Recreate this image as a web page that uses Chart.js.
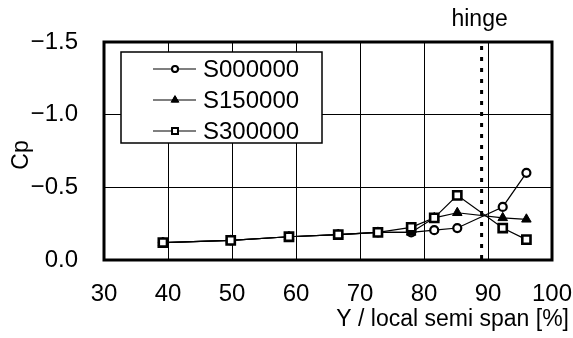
<!DOCTYPE html>
<html>
<head>
<meta charset="utf-8">
<script src="https://cdn.jsdelivr.net/npm/chart.js@4.4.1/dist/chart.umd.min.js"></script>
<style>
  html, body { margin: 0; padding: 0; background: #fff; }
  canvas { display: block; }
</style>
</head>
<body>
<canvas id="cpChart" width="573" height="338"></canvas>
<script>
// spanwise stations [% of local semi span]
const spanX = [39.2, 49.8, 58.9, 66.6, 72.8, 78.0, 81.6, 85.2, 92.3, 96.0];

// Cp per case
const cpS000000 = [-0.12, -0.135, -0.16, -0.175, -0.19, -0.19, -0.205, -0.22, -0.365, -0.60];
const cpS150000 = [-0.12, -0.135, -0.16, -0.175, -0.19, -0.19, -0.29, -0.325, -0.29, -0.28];
const cpS300000 = [-0.12, -0.135, -0.16, -0.175, -0.19, -0.225, -0.29, -0.445, -0.22, -0.14];

const seriesNames = ['S000000', 'S150000', 'S300000'];
const xTickValues = [30, 40, 50, 60, 70, 80, 90, 100];
const yTickValues = [0, -0.5, -1.0, -1.5];
const hingeX = 89;

const FONT = '"Liberation Sans", Arial, sans-serif';

function toPoints(values) {
    return spanX.map((x, i) => ({ x: x, y: values[i] }));
}

function formatCp(v) {
    if (Math.abs(v) < 1e-9) return '0.0';
    return (v < 0 ? '\u2212' : '') + Math.abs(v).toFixed(1);
}

const markerStyles = [
    { pointStyle: 'circle', radius: 4, borderWidth: 2.2, fill: '#fff', legendRadius: 3, legendBorder: 2 },
    { pointStyle: 'triangle', radius: 5.5, borderWidth: 1, fill: '#000', legendRadius: 4, legendBorder: 1 },
    { pointStyle: 'rect', radius: 5.8, borderWidth: 2.6, fill: '#fff', legendRadius: 4.2, legendBorder: 2 }
];

const decorations = {
    id: 'decorations',
    afterDraw(chart) {
        const ctx = chart.ctx;
        const area = chart.chartArea;
        const xScale = chart.scales.x;

        ctx.save();

        // hinge line
        const hx = xScale.getPixelForValue(hingeX);
        ctx.strokeStyle = '#000';
        ctx.lineWidth = 3;
        ctx.setLineDash([4, 7]);
        ctx.beginPath();
        ctx.moveTo(hx, area.top + 4);
        ctx.lineTo(hx, area.bottom);
        ctx.stroke();
        ctx.setLineDash([]);

        // frame
        ctx.lineWidth = 3;
        ctx.strokeRect(area.left, area.top, area.right - area.left, area.bottom - area.top);

        ctx.fillStyle = '#000';
        ctx.font = '23px ' + FONT;
        ctx.textBaseline = 'middle';

        // hinge label
        ctx.textAlign = 'center';
        ctx.fillText('hinge', hx - 2, 20);

        // axis titles
        ctx.textAlign = 'right';
        ctx.fillText('Y / local semi span [%]', 569, 320);

        ctx.save();
        ctx.translate(22, 155);
        ctx.rotate(-Math.PI / 2);
        ctx.textAlign = 'center';
        ctx.fillText('Cp', 0, 0);
        ctx.restore();

        // legend
        const box = { x: 121, y: 52, w: 201, h: 91 };
        ctx.fillStyle = '#fff';
        ctx.fillRect(box.x, box.y, box.w, box.h);
        ctx.lineWidth = 1.5;
        ctx.strokeStyle = '#000';
        ctx.strokeRect(box.x, box.y, box.w, box.h);

        const rows = [69, 100, 131];
        chart.data.datasets.forEach((ds, i) => {
            const y = rows[i];
            const m = markerStyles[i];
            ctx.lineWidth = 1.2;
            ctx.beginPath();
            ctx.moveTo(153, y);
            ctx.lineTo(196, y);
            ctx.stroke();
            Chart.helpers.drawPoint(ctx, {
                pointStyle: m.pointStyle,
                radius: m.legendRadius,
                borderWidth: m.legendBorder,
                rotation: 0
            }, 175, y);
            ctx.fillStyle = m.fill;
            ctx.strokeStyle = '#000';
            ctx.lineWidth = m.legendBorder;
            ctx.fill();
            ctx.stroke();
            ctx.fillStyle = '#000';
            ctx.font = '24px ' + FONT;
            ctx.textAlign = 'left';
            ctx.fillText(ds.label, 203, y + 1);
        });

        ctx.restore();
    }
};

const seriesValues = [cpS000000, cpS150000, cpS300000];

const datasets = seriesValues.map((vals, i) => {
    const m = markerStyles[i];
    return {
        label: seriesNames[i],
        data: toPoints(vals),
        showLine: true,
        borderColor: '#000',
        borderWidth: 1.2,
        pointStyle: m.pointStyle,
        pointRadius: m.radius,
        pointBorderWidth: m.borderWidth,
        pointBackgroundColor: m.fill,
        pointBorderColor: '#000',
        order: 2 - i
    };
});

const ctx = document.getElementById('cpChart').getContext('2d');
window.cpChart = new Chart(ctx, {
    type: 'scatter',
    data: { datasets: datasets },
    options: {
        responsive: false,
        animation: false,
        devicePixelRatio: 1,
        layout: { padding: { left: 0, top: 42, right: 21, bottom: 0 } },
        plugins: {
            legend: { display: false },
            tooltip: { enabled: false }
        },
        scales: {
            x: {
                type: 'linear',
                min: 30,
                max: 100,
                afterFit: function(scale) {
                    scale.height = 78;
                    scale.paddingLeft = 0;
                    scale.paddingRight = 0;
                },
                afterBuildTicks: function(scale) {
                    scale.ticks = xTickValues.map(v => ({ value: v }));
                },
                ticks: {
                    color: '#000',
                    font: { family: FONT, size: 24 },
                    padding: 20,
                    autoSkip: false,
                    maxRotation: 0
                },
                grid: { color: '#000', lineWidth: 1, drawTicks: false },
                border: { display: false }
            },
            y: {
                type: 'linear',
                min: -1.5,
                max: 0,
                reverse: true,
                afterFit: function(scale) {
                    scale.width = 104;
                    scale.paddingTop = 0;
                    scale.paddingBottom = 0;
                },
                afterBuildTicks: function(scale) {
                    scale.ticks = yTickValues.map(v => ({ value: v }));
                },
                ticks: {
                    color: '#000',
                    font: { family: FONT, size: 24 },
                    padding: 26,
                    callback: function(value) { return formatCp(value); }
                },
                grid: { color: '#000', lineWidth: 1, drawTicks: false },
                border: { display: false }
            }
        }
    },
    plugins: [decorations]
});
</script>
</body>
</html>
